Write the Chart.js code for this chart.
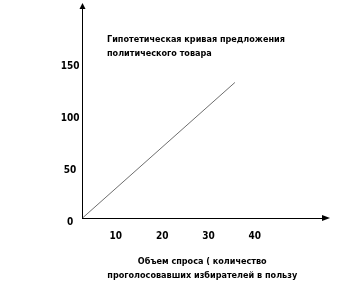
<!DOCTYPE html>
<html>
<head>
<meta charset="utf-8">
<script src="https://cdn.jsdelivr.net/npm/chart.js@4.4.1/dist/chart.umd.min.js"></script>
<style>
  html, body { margin: 0; padding: 0; background: #fff; }
  canvas { display: block; }
</style>
</head>
<body>
<canvas id="chart" width="342" height="294"></canvas>
<script>
// values
const supplyX = [2.8, 35.7];
const supplyY = [0, 131];
const xTicks = [10, 20, 30, 40];
const yTicks = [0, 50, 100, 150];
const xRange = [2.8, 54.5];
const yRange = [0, 202];
const chartTitle = ['Гипотетическая кривая предложения', 'политического товара'];
const xTitle = ['Объем спроса ( количество', 'проголосовавших избирателей в пользу'];

const FONT = '"DejaVu Sans Condensed", "DejaVu Sans", sans-serif';
Chart.defaults.font.family = FONT;
Chart.defaults.color = '#000';

// arrow heads on the axes and the caption inside the plot
const axesPlugin = {
    id: 'axesPlugin',
    afterDraw(chart) {
        const ctx = chart.ctx;
        const { left, top, right, bottom } = chart.chartArea;
        ctx.save();
        ctx.fillStyle = '#000';
        ctx.beginPath();
        ctx.moveTo(left - 3, top);
        ctx.lineTo(left + 3, top);
        ctx.lineTo(left, top - 6);
        ctx.closePath();
        ctx.fill();
        ctx.beginPath();
        ctx.moveTo(right, bottom - 3);
        ctx.lineTo(right, bottom + 3);
        ctx.lineTo(right + 8, bottom);
        ctx.closePath();
        ctx.fill();

        ctx.font = 'bold 9px ' + FONT;
        ctx.textAlign = 'left';
        ctx.textBaseline = 'middle';
        chartTitle.forEach((line, i) => {
            ctx.fillText(line, 107, 40 + i * 14);
        });
        ctx.restore();
    }
};

new Chart(document.getElementById('chart'), {
    type: 'line',
    data: {
        datasets: [{
            data: supplyX.map((x, i) => ({ x: x, y: supplyY[i] })),
            borderColor: '#6e6e6e',
            borderWidth: 1,
            pointRadius: 0,
            fill: false,
            tension: 0,
        }]
    },
    options: {
        responsive: false,
        animation: false,
        layout: {
            padding: { left: 60.5, right: 20, top: 9, bottom: 11.5 }
        },
        plugins: {
            legend: { display: false },
            tooltip: { enabled: false },
        },
        scales: {
            x: {
                type: 'linear',
                min: xRange[0],
                max: xRange[1],
                afterBuildTicks(scale) {
                    scale.ticks = xTicks.map(v => ({ value: v }));
                },
                afterFit(scale) {
                    scale.height = 64.5;
                },
                grid: { display: false, drawTicks: false },
                border: { display: true, color: '#000', width: 1 },
                ticks: {
                    padding: 12,
                    maxRotation: 0,
                    font: { size: 10, weight: 'bold' },
                },
                title: {
                    display: true,
                    text: xTitle,
                    font: { size: 9, weight: 'bold', lineHeight: 1.52 },
                    padding: { top: 0, bottom: 0 },
                },
            },
            y: {
                type: 'linear',
                min: yRange[0],
                max: yRange[1],
                afterBuildTicks(scale) {
                    scale.ticks = yTicks.map(v => ({ value: v }));
                },
                afterFit(scale) {
                    scale.width = 22;
                },
                grid: { display: false, drawTicks: false },
                border: { display: true, color: '#000', width: 1 },
                ticks: {
                    padding: 3,
                    crossAlign: 'center',
                    labelOffset: 4,
                    font: { size: 10, weight: 'bold' },
                },
            },
        },
    },
    plugins: [axesPlugin],
});
</script>
</body>
</html>
